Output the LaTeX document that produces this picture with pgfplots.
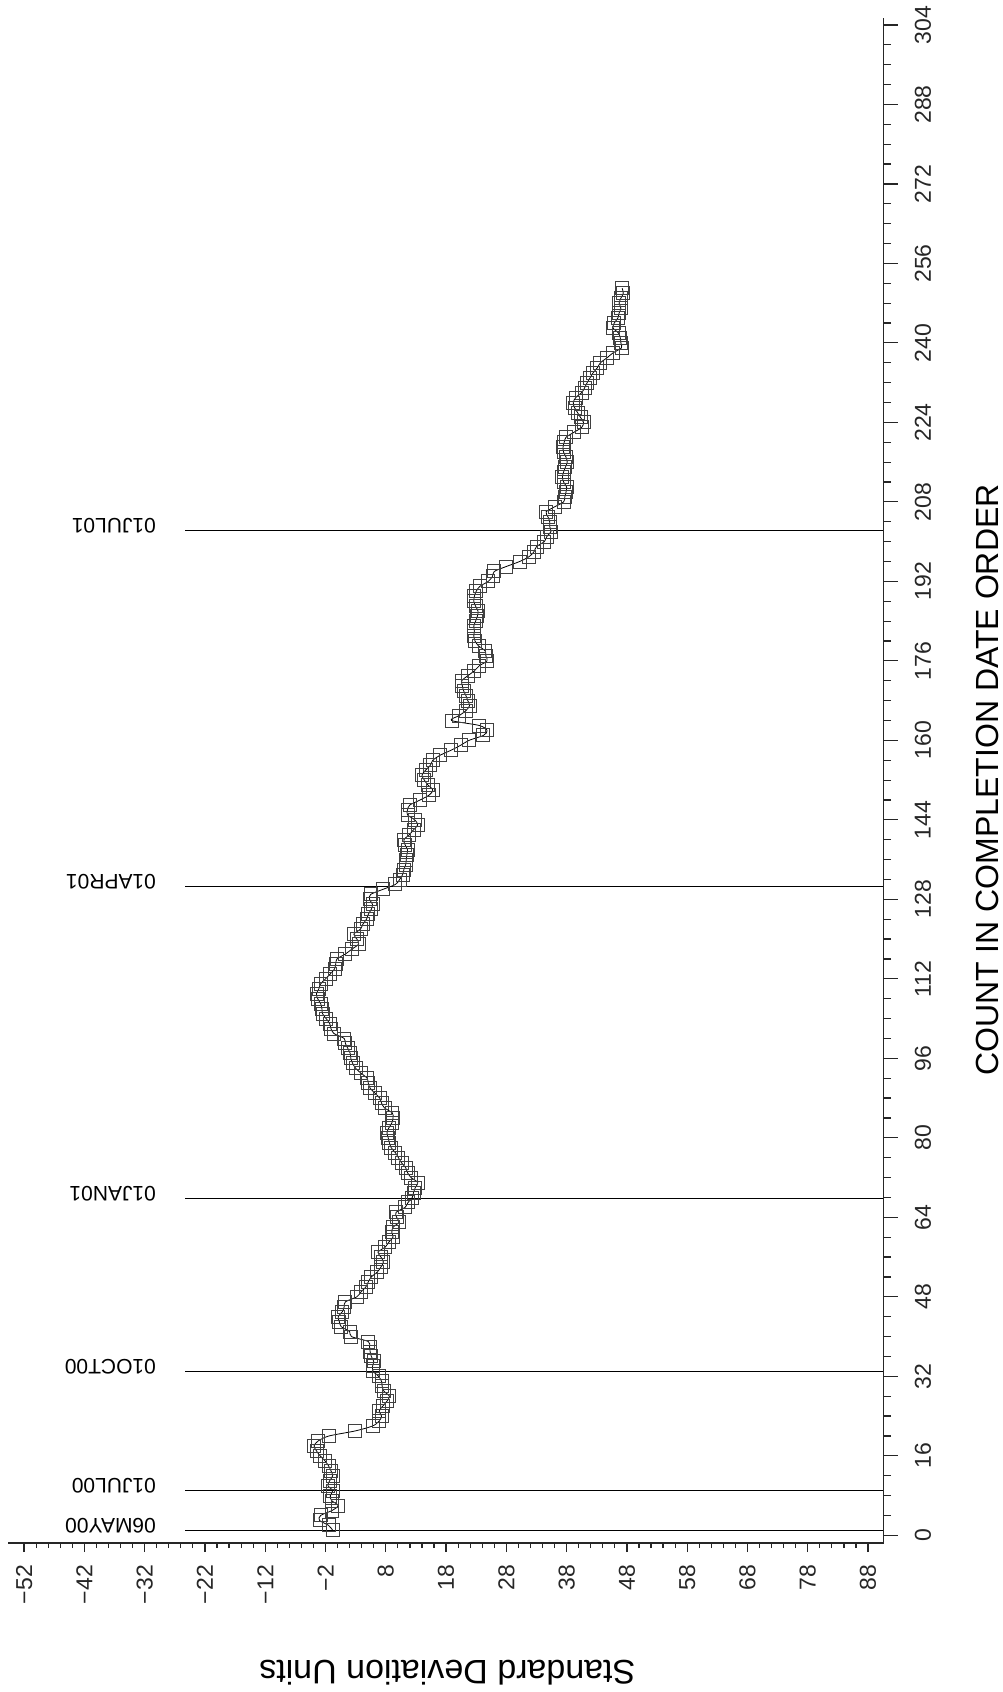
\documentclass[border=0pt]{standalone}
\usepackage{fontspec}
\setmainfont{Liberation Sans}
\newfontfamily\tickfont{Liberation Sans}
\usepackage{pgfplots}
\pgfplotsset{compat=1.18}
\pgfplotstableread{
v c
-0.8 1
-1.5 2
-3.0 3
-2.8 4
-0.9 5
0.1 6
-1.0 7
-1.2 8
-0.8 9
-1.6 10
-1.3 11
-0.8 12
-1.1 13
-1.5 14
-2.1 15
-2.9 16
-3.5 17
-3.9 18
-3.2 19
-1.4 20
2.9 21
5.8 22
6.9 23
7.3 24
6.9 25
7.5 26
8.2 27
8.6 28
7.7 29
7.4 30
7.3 31
6.8 32
5.9 33
5.8 34
6.0 35
5.6 36
5.4 37
5.3 38
5.1 39
2.3 40
2.0 41
0.6 42
0.3 43
0.1 44
0.8 45
1.1 46
1.3 47
3.2 48
3.9 49
4.7 50
5.1 51
5.6 52
6.6 53
7.2 54
7.6 55
7.2 56
6.7 57
7.9 58
8.5 59
9.2 60
9.0 61
9.2 62
10.2 63
9.8 64
9.7 65
11.2 66
11.7 67
12.4 68
12.6 69
12.9 70
13.3 71
12.2 72
11.6 73
11.3 74
10.6 75
10.1 76
9.6 77
8.9 78
8.6 79
8.4 80
8.2 81
8.5 82
9.0 83
9.2 84
9.1 85
7.8 86
7.3 87
7.0 88
6.2 89
5.4 90
5.1 91
4.9 92
3.9 93
3.0 94
2.5 95
2.2 96
2.1 97
1.7 98
1.3 99
1.1 100
-0.6 101
-1.1 102
-1.3 103
-1.9 104
-2.5 105
-2.6 106
-2.8 107
-3.3 108
-3.5 109
-3.1 110
-2.8 111
-2.0 112
-1.2 113
-0.5 114
-0.3 115
-0.1 116
1.3 117
2.4 118
3.5 119
3.2 120
2.7 121
3.8 122
4.2 123
4.8 124
5.1 125
5.6 126
5.8 127
5.3 128
5.5 129
7.5 130
9.6 131
10.3 132
10.8 133
11.0 134
11.3 135
11.4 136
11.5 137
11.6 138
11.2 139
11.0 140
11.9 141
12.6 142
13.3 143
12.8 144
11.6 145
11.6 146
12.0 147
13.7 148
15.2 149
15.8 150
15.0 151
14.4 152
14.0 153
14.6 154
15.4 155
15.8 156
17.0 157
18.8 158
20.4 159
21.8 160
24.2 161
24.8 162
23.5 163
18.9 164
20.2 165
21.3 166
21.9 167
21.6 168
21.3 169
20.9 170
20.7 171
20.6 172
21.6 173
22.7 174
23.5 175
24.8 176
24.6 177
24.5 178
23.4 179
22.8 180
22.6 181
22.7 182
22.6 183
22.9 184
23.2 185
23.3 186
22.9 187
22.6 188
22.7 189
23.0 190
23.6 191
25.0 192
25.7 193
26.0 194
28.0 195
30.2 196
31.8 197
32.6 198
33.0 199
34.3 200
34.7 201
35.4 202
35.2 203
35.2 204
34.9 205
34.6 206
36.0 207
37.5 208
37.7 209
37.9 210
38.0 211
37.5 212
37.3 213
37.5 214
37.8 215
38.1 216
37.9 217
37.5 218
37.4 219
37.6 220
37.9 221
39.2 222
40.5 223
40.8 224
40.3 225
39.8 226
39.3 227
39.1 228
39.5 229
40.5 230
41.0 231
41.4 232
41.9 233
42.4 234
43.1 235
43.6 236
44.7 237
45.7 238
47.1 239
47.0 240
46.9 241
46.6 242
45.7 243
45.9 244
46.5 245
46.7 246
47.0 247
46.7 248
47.0 249
47.4 250
47.2 251
}\sdata
\begin{document}
\begin{tikzpicture}
\begin{axis}[
 at={(8pt,149pt)}, anchor=south west, scale only axis,
 width=875.6pt, height=1525pt,
 xmin=-54.67, xmax=90.58, ymin=-1.55, ymax=305.4,
 axis x line*=bottom, axis y line*=right,
 axis line style={line width=1.3pt, black!85},
 xtick={-52,-42,...,88},
 xticklabels={−52,−42,−32,−22,−12,−2,8,18,28,38,48,58,68,78,88},
 minor x tick num=4,
 ytick=\empty,
 tick align=outside,
 major tick length=9pt, minor tick length=5pt,
 every tick/.style={line width=1.2pt, black!85},
 xticklabel shift=13pt,
 xticklabel style={font=\tickfont\fontsize{23}{23}\selectfont, rotate=90, anchor=east, inner sep=0pt, text=black!85},
 clip=false,
]
\addplot[black, line width=1.2pt, no marks] coordinates {(-25.3,1.0) (90.58,1.0)};
\addplot[black, line width=1.2pt, no marks] coordinates {(-25.3,9.0) (90.58,9.0)};
\addplot[black, line width=1.2pt, no marks] coordinates {(-25.3,32.9) (90.58,32.9)};
\addplot[black, line width=1.2pt, no marks] coordinates {(-25.3,67.8) (90.58,67.8)};
\addplot[black, line width=1.2pt, no marks] coordinates {(-25.3,130.6) (90.58,130.6)};
\addplot[black, line width=1.2pt, no marks] coordinates {(-25.3,202.3) (90.58,202.3)};
\addplot[black, line width=0.8pt, smooth, tension=0.5, mark=square, mark size=6.5pt,
  mark options={line width=0.9pt, solid, draw=black!75, fill=none}] table[x=v, y=c] {\sdata};
\node[rotate=180, anchor=base west, inner sep=0pt, font=\fontsize{21}{21}\selectfont] at (axis cs:-30.1,3.42) {06MAY00};
\node[rotate=180, anchor=base west, inner sep=0pt, font=\fontsize{21}{21}\selectfont] at (axis cs:-30.1,11.42) {01JUL00};
\node[rotate=180, anchor=base west, inner sep=0pt, font=\fontsize{21}{21}\selectfont] at (axis cs:-30.1,35.32) {01OCT00};
\node[rotate=180, anchor=base west, inner sep=0pt, font=\fontsize{21}{21}\selectfont] at (axis cs:-30.1,70.22) {01JAN01};
\node[rotate=180, anchor=base west, inner sep=0pt, font=\fontsize{21}{21}\selectfont] at (axis cs:-30.1,133.02) {01APR01};
\node[rotate=180, anchor=base west, inner sep=0pt, font=\fontsize{21}{21}\selectfont] at (axis cs:-30.1,204.72) {01JUL01};
\node[rotate=180, anchor=base, inner sep=0pt, font=\fontsize{34}{34}\selectfont] at (axis cs:18.2,-25.1) {Standard Deviation Units};
\node[rotate=90, anchor=base, inner sep=0pt, font=\fontsize{32}{32}\selectfont] at (axis cs:109.6,152) {COUNT IN COMPLETION DATE ORDER};
\end{axis}
\begin{axis}[
 at={(8pt,149pt)}, anchor=south west, scale only axis,
 width=875.6pt, height=1525pt,
 xmin=-54.67, xmax=90.58, ymin=-1.55, ymax=305.4,
 axis x line=none, axis y line*=right,
 axis line style={line width=1.3pt, black!85},
 xtick=\empty,
 ytick={0,16,...,304},
 yticklabels={0,16,32,48,64,80,96,112,128,144,160,176,192,208,224,240,256,272,288,304},
 minor y tick num=3,
 tick align=outside,
 major tick length=14pt, minor tick length=7.5pt,
 every tick/.style={line width=1.2pt, black!85},
 yticklabel shift=17pt,
 yticklabel style={font=\tickfont\fontsize{23}{23}\selectfont, rotate=90, anchor=north, inner sep=0pt, text=black!85},
 clip=false,
]
\addplot[draw=none] coordinates {(0,0)};
\end{axis}
\pgfresetboundingbox
\path[use as bounding box] (0,0) rectangle (1002pt,1692pt);
\end{tikzpicture}
\end{document}
